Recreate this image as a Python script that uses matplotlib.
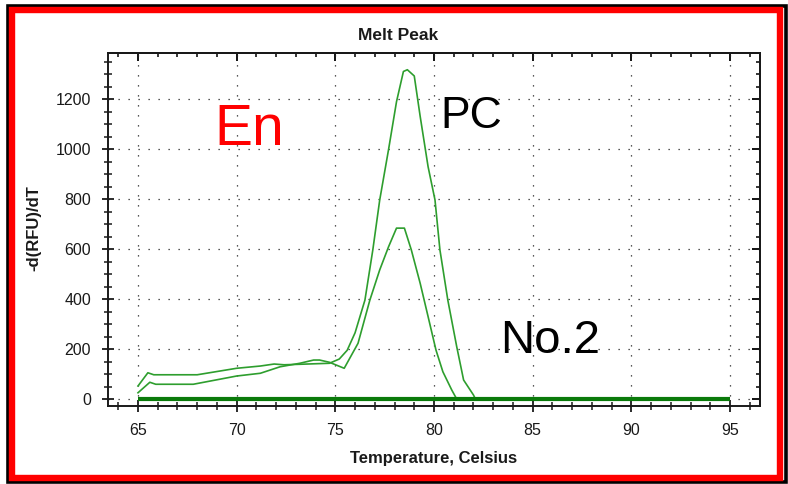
import matplotlib
matplotlib.use('Agg')
import matplotlib.pyplot as plt
from matplotlib.ticker import MultipleLocator, FixedLocator
from matplotlib.patches import Rectangle

# ---------------- data ----------------
temp_pc = [65.0, 65.5, 65.8, 68.0, 70.0, 71.2, 71.9, 72.4, 73.2, 74.7, 75.2, 75.6,
           76.0, 76.5, 76.9, 77.25, 77.7, 78.1, 78.45, 78.65, 79.0, 79.3, 79.7,
           80.05, 80.3, 80.7, 81.15, 81.5, 82.0, 82.1]
rfu_pc = [52, 105, 97, 97, 123, 132, 140, 137, 139, 143, 160, 195,
          265, 396, 597, 797, 1000, 1190, 1311, 1318, 1293, 1131, 930,
          797, 597, 396, 210, 76, 16, 0]

temp_low = [65.0, 65.6, 65.9, 67.8, 70.0, 71.2, 72.2, 73.2, 73.9, 74.2, 74.7,
            75.45, 76.15, 76.75, 77.25, 77.7, 78.1, 78.5, 78.85, 79.3, 79.7,
            80.1, 80.45, 80.9, 81.15]
rfu_low = [25, 67, 59, 59, 92, 103, 129, 143, 156, 156, 147,
           123, 223, 396, 517, 610, 684, 684, 597, 463, 330,
           196, 109, 36, 0]

temp_flat = [65, 95]
rfu_flat = [0, 0]

x_major = [65, 70, 75, 80, 85, 90, 95]
y_major = [0, 200, 400, 600, 800, 1000, 1200]

# ---------------- figure ----------------
plt.rcParams['font.family'] = ['Liberation Sans', 'DejaVu Sans']
W, H = 788, 484
fig = plt.figure(figsize=(W / 100, H / 100), dpi=100)
fig.patch.set_facecolor('white')


def fx(px):
    return px / W


def fy(py):
    return 1 - py / H


ax = fig.add_axes([fx(108), fy(406), (760 - 108) / W, (406 - 53) / H])
ax.set_xlim(63.48, 96.52)
ax.set_ylim(-28, 1385)

thin = '#2e9e2e'
ax.plot(temp_pc, rfu_pc, color=thin, lw=1.2, zorder=3)
ax.plot(temp_low, rfu_low, color=thin, lw=1.2, zorder=3)
ax.plot(temp_flat, rfu_flat, color='#0a7a0a', lw=3.0, zorder=4, solid_capstyle='butt')

ax.xaxis.set_major_locator(FixedLocator(x_major))
ax.yaxis.set_major_locator(FixedLocator(y_major))
ax.xaxis.set_minor_locator(MultipleLocator(1))
ax.yaxis.set_minor_locator(MultipleLocator(50))

ax.grid(which='major', color='#222222', lw=0.9, linestyle=(0, (1, 7)), zorder=1)

for s in ax.spines.values():
    s.set_linewidth(1.4)
    s.set_color('#1a1a1a')

ax.tick_params(which='major', direction='inout', length=8.6, width=1.3,
               pad=8, labelsize=11.5, colors='#1a1a1a', top=False, right=False)
ax.tick_params(which='minor', direction='inout', length=5.8, width=1.1,
               colors='#1a1a1a', top=False, right=False)

secx = ax.secondary_xaxis('top')
secx.xaxis.set_major_locator(FixedLocator(x_major))
secx.xaxis.set_minor_locator(MultipleLocator(1))
secx.tick_params(which='major', direction='in', length=5.5, width=1.3, labeltop=False)
secx.tick_params(which='minor', direction='in', length=3, width=1.1)
secx.spines['top'].set_linewidth(1.4)

secy = ax.secondary_yaxis('right')
secy.yaxis.set_major_locator(FixedLocator(y_major))
secy.yaxis.set_minor_locator(MultipleLocator(50))
secy.tick_params(which='major', direction='in', length=5.5, width=1.3, labelright=False)
secy.tick_params(which='minor', direction='in', length=3, width=1.1)
secy.spines['right'].set_linewidth(1.4)

# ---------------- texts ----------------
fig.text(fx(398), fy(40), 'Melt Peak', ha='center', va='baseline',
         fontsize=12.5, fontweight='bold', color='#1a1a1a')
fig.text(fx(434), fy(462.7), 'Temperature, Celsius', ha='center', va='baseline',
         fontsize=12, fontweight='bold', color='#1a1a1a')
fig.text(fx(34), fy(228), '-d(RFU)/dT', ha='center', va='center', rotation=90,
         fontsize=12, fontweight='bold', color='#1a1a1a')

fig.text(fx(214), fy(145), 'En', ha='left', va='baseline', fontsize=41, color='#ff0000')
fig.text(fx(440), fy(128), 'PC', ha='left', va='baseline', fontsize=32, color='black')
fig.text(fx(500), fy(353), 'No.2', ha='left', va='baseline', fontsize=34, color='black')

# ---------------- frame ----------------
fig.add_artist(Rectangle((fx(7.5), fy(482)), (785.5 - 7.5) / W, (482 - 5.5) / H,
                         transform=fig.transFigure, fill=False, edgecolor='black',
                         lw=2.6, zorder=9))
fig.add_artist(Rectangle((fx(12), fy(477.5)), (780 - 12) / W, (477.5 - 9.5) / H,
                         transform=fig.transFigure, fill=False, edgecolor='#ff0000',
                         lw=4.6, zorder=10))

fig.savefig('out.png', dpi=100)
